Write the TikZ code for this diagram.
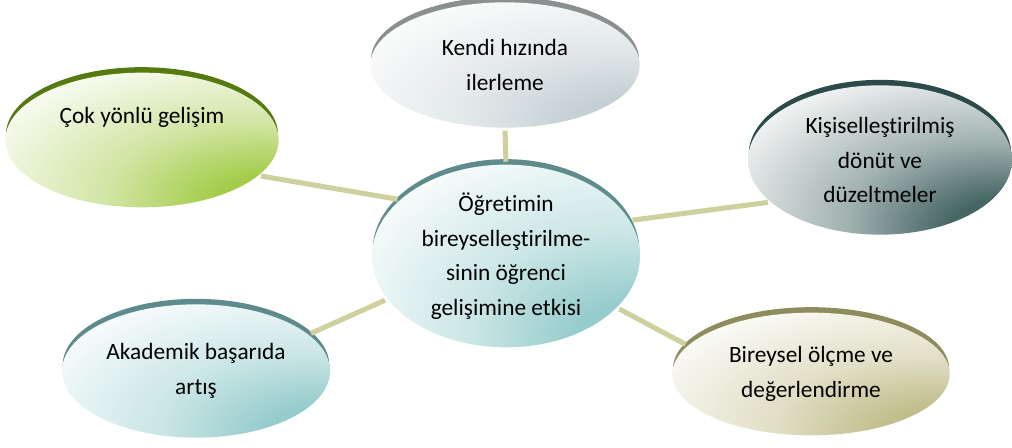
\documentclass[tikz,border=0pt]{standalone}
\usepackage{xcolor}
\usepackage{fontspec}
\setmainfont{Carlito}[Ligatures={NoCommon,NoContextual}]
\usepackage{tikz}
\usetikzlibrary{shapes.geometric}

\definecolor{glowgreen}{RGB}{164,204,74}
\definecolor{arcgreen}{RGB}{84,122,16}
\definecolor{glowgray}{RGB}{196,208,212}
\definecolor{arcgray}{RGB}{138,143,144}
\definecolor{glowslate}{RGB}{70,102,100}
\definecolor{arcslate}{RGB}{44,74,74}
\definecolor{glowteal}{RGB}{150,204,204}
\definecolor{arcteal}{RGB}{94,140,140}
\definecolor{glowkhaki}{RGB}{194,190,140}
\definecolor{arckhaki}{RGB}{142,140,92}
\definecolor{linkc}{RGB}{208,208,158}

\colorlet{glowc}{white}
\pgfdeclareradialshading[glowc]{glowshade}{\pgfpoint{28bp}{-28bp}}{color(0bp)=(glowc); color(12bp)=(glowc); color(27bp)=(glowc!50!white); color(50bp)=(white); color(100bp)=(white)}

\tikzset{
  glow color/.code={\colorlet{glowc}{#1}},
  bubble/.style={ellipse, inner sep=0pt, align=center, glow color=#1, shading=glowshade,
    font=\fontsize{17.5}{26}\selectfont},
  rim/.style={ellipse, inner sep=0pt, fill=#1},
  link/.style={draw=linkc, line width=3.8pt, shorten <=2pt, shorten >=2pt}
}

\begin{document}
\begin{tikzpicture}[x=0.75pt,y=0.75pt,yscale=-1,xscale=1]
        \useasboundingbox (0,0) rectangle (1012,448);

        % rims
        \node [rim=arcgreen, minimum width=204pt, minimum height=101pt] (cokrim) at (142,134.5) {};
        \node [rim=arcgray, minimum width=201pt, minimum height=94pt] (kendirim) at (505,59.5) {};
        \node [rim=arcslate, minimum width=197pt, minimum height=112pt] (kisiselrim) at (880,154.5) {};
        \node [rim=arcteal, minimum width=200pt, minimum height=137pt] (hubrim) at (506,250.5) {};
        \node [rim=arcteal, minimum width=200pt, minimum height=100pt] (akademikrim) at (196,365.5) {};
        \node [rim=arckhaki, minimum width=207pt, minimum height=92pt] (bireyselrim) at (811,368.5) {};

        % bubbles
        \node [bubble=glowgreen, minimum width=205pt, minimum height=101pt] (cok) at (142,140) {Çok yönlü gelişim\\[10.5pt]\mbox{}};
        \node [bubble=glowgray, minimum width=202pt, minimum height=94pt] (kendi) at (505,65) {Kendi hızında\\ilerleme};
        \node [bubble=glowslate, minimum width=198pt, minimum height=112pt] (kisisel) at (880,160) {Kişiselleştirilmiş\\dönüt ve\\düzeltmeler};
        \node [bubble=glowteal, minimum width=201pt, minimum height=137pt] (hub) at (506,256) {Öğretimin\\bireyselleştirilme-\\sinin öğrenci\\gelişimine etkisi};
        \node [bubble=glowteal, minimum width=201pt, minimum height=100pt] (akademik) at (196,371) {Akademik başarıda\\artış};
        \node [bubble=glowkhaki, minimum width=208pt, minimum height=92pt] (bireysel) at (811,374) {Bireysel ölçme ve\\değerlendirme};

        % links
        \draw [link] (kendi.south) -- (hub.north);
        \draw [link] (cok.-17) -- (hub.152);
        \draw [link] (hub.16) -- (kisisel.-159);
        \draw [link] (hub.200) -- (akademik.18);
        \draw [link] (hub.-25) -- (bireysel.167);
\end{tikzpicture}
\end{document}
